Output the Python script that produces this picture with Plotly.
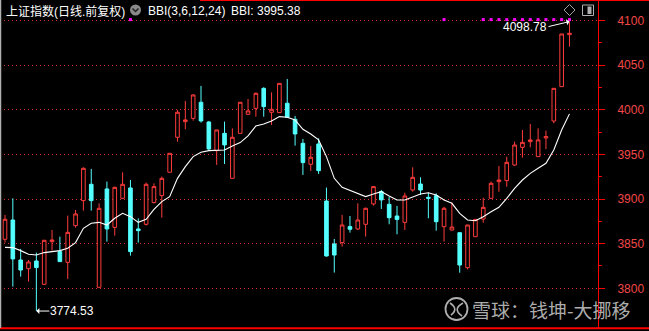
import plotly.graph_objects as go

# ---------------- data ----------------
opens = [3854.9, 3876.5, 3831.7, 3822.0, 3830.6, 3804.5, 3852.3, 3841.1, 3829.1, 3870.2,
         3898.2, 3916.5, 3801.1, 3911.3, 3868.3, 3900.8, 3912.4, 3866.5, 3871.7, 3896.0,
         3903.8, 3930.0, 3969.2, 3986.7, 3990.4, 4008.4, 3986.3, 3954.2, 3973.6, 3923.2,
         3973.6, 3994.9, 4001.6, 4024.0, 3997.2, 3996.8, 4007.3, 3989.3, 3962.4, 3938.9,
         3961.7, 3897.8, 3849.7, 3851.2, 3869.1, 3866.5, 3871.7, 3894.5, 3908.3, 3894.1,
         3881.0, 3873.9, 3910.1, 3916.8, 3901.9, 3903.8, 3869.0, 3865.3, 3862.3, 3823.1,
         3857.8, 3877.6, 3900.8, 3919.5, 3920.6, 3938.1, 3957.9, 3964.3, 3947.5, 3968.4,
         3987.4, 4025.9, 4084.1]
highs = [3882.2, 3900.8, 3844.1, 3831.7, 3840.0, 3854.1, 3865.3, 3857.9, 3881.4, 3887.8,
         3935.5, 3933.7, 3895.2, 3919.5, 3913.9, 3929.9, 3921.4, 3878.4, 3918.4, 3917.6,
         3925.1, 3951.2, 3999.8, 4009.9, 4017.3, 4026.7, 3987.5, 3977.4, 3986.7, 3979.2,
         4008.4, 4012.1, 4019.5, 4025.2, 4019.5, 4029.6, 4034.5, 3993.1, 3967.3, 3959.4,
         3968.0, 3912.8, 3855.3, 3882.2, 3881.0, 3895.2, 3890.4, 3914.6, 3910.2, 3902.6,
         3892.2, 3907.1, 3935.5, 3924.3, 3907.1, 3906.4, 3891.4, 3896.3, 3862.3, 3870.9,
         3877.2, 3901.5, 3919.5, 3937.0, 3947.5, 3964.3, 3977.3, 3984.1, 3979.2, 3976.6,
         4024.0, 4084.9, 4098.78]
lows = [3851.2, 3801.9, 3813.1, 3807.5, 3774.53, 3803.7, 3842.2, 3829.9, 3810.5, 3868.0,
        3887.0, 3887.0, 3801.1, 3852.3, 3859.0, 3900.8, 3836.6, 3851.2, 3870.2, 3895.2,
        3879.2, 3930.0, 3964.3, 3978.1, 3987.8, 3985.6, 3954.2, 3938.2, 3939.3, 3923.2,
        3973.6, 3994.9, 3992.3, 3992.3, 3983.0, 3996.8, 3991.6, 3959.8, 3927.0, 3931.4,
        3928.1, 3835.5, 3817.6, 3846.7, 3862.4, 3865.3, 3857.9, 3892.6, 3888.9, 3871.7,
        3860.5, 3865.3, 3908.2, 3904.5, 3878.4, 3864.6, 3852.3, 3864.6, 3817.5, 3821.2,
        3857.8, 3873.5, 3900.8, 3908.2, 3913.8, 3937.3, 3946.3, 3957.9, 3947.5, 3956.0,
        3984.8, 4025.9, 4070.7]
closes = [3877.3, 3832.9, 3820.5, 3829.5, 3823.2, 3853.8, 3854.1, 3829.9, 3862.7, 3883.3,
          3934.4, 3898.2, 3889.6, 3866.5, 3913.1, 3916.5, 3841.1, 3864.6, 3916.5, 3913.9,
          3923.2, 3951.2, 3997.2, 3988.6, 4016.6, 3987.5, 3956.1, 3977.4, 3960.6, 3969.2,
          4008.4, 3998.7, 4018.4, 4003.5, 4000.5, 4029.6, 3991.6, 3972.9, 3940.8, 3946.8,
          3931.8, 3836.2, 3837.3, 3870.9, 3866.1, 3876.5, 3889.6, 3913.9, 3899.0, 3879.1,
          3877.2, 3903.4, 3924.3, 3910.1, 3900.8, 3874.6, 3889.6, 3868.6, 3826.1, 3870.9,
          3877.2, 3890.7, 3917.6, 3921.3, 3941.1, 3960.5, 3963.5, 3966.2, 3966.2, 3969.9,
          4024.0, 4084.9, 4085.6]
bbi = [3845.9, 3845.6, 3842.2, 3838.1, 3837.3, 3840.0, 3841.1, 3842.2, 3844.8, 3851.2,
       3867.2, 3872.8, 3873.9, 3870.9, 3878.4, 3884.0, 3880.3, 3873.9, 3877.3, 3888.5,
       3897.1, 3902.7, 3923.2, 3936.3, 3947.5, 3952.4, 3954.2, 3954.2, 3955.0, 3959.4,
       3963.2, 3970.7, 3981.9, 3984.1, 3987.5, 3992.3, 3991.6, 3988.6, 3978.1, 3972.9,
       3966.2, 3947.5, 3923.2, 3913.2, 3909.4, 3906.4, 3902.7, 3905.7, 3908.3, 3903.4,
       3898.9, 3898.9, 3902.6, 3905.6, 3907.1, 3904.5, 3898.9, 3895.2, 3883.9, 3876.5,
       3875.7, 3880.2, 3885.8, 3890.7, 3900.8, 3912.0, 3921.3, 3928.8, 3934.4, 3940.0,
       3954.9, 3977.3, 3995.38]
marker_idx = [16, 56, 61, 62, 63, 64, 65, 66, 67, 68, 69, 70, 71, 72]
marker_level = 4101.0
y_ticks = [3800, 3850, 3900, 3950, 4000, 4050, 4100]
title_text = "上证指数(日线.前复权)"
bbi_label = "BBI(3,6,12,24)"
watermark = "雪球：钱坤-大挪移"

# ---------------- layout helpers ----------------
W, H = 649, 331
PW, PH = 598, 328          # plot area (pixels)
def px(x):
    return x / PW
def py(y):
    return 1 - y / PH

FONT = "Liberation Sans, Arial, Noto Sans CJK SC, sans-serif"
RED = "#ff3c3c"
CYAN = "#54ffff"
xs = list(range(len(opens)))
hi_i = highs.index(max(highs))
lo_i = lows.index(min(lows))

fig = go.Figure()
fig.add_trace(go.Candlestick(
    x=xs, open=opens, high=highs, low=lows, close=closes,
    increasing=dict(line=dict(color=RED, width=1), fillcolor="#000000"),
    decreasing=dict(line=dict(color=CYAN, width=1), fillcolor=CYAN),
    whiskerwidth=0, hoverinfo="skip", showlegend=False,
))
fig.add_trace(go.Scatter(
    x=xs, y=bbi, mode="lines", line=dict(color="#ffffff", width=1.1),
    hoverinfo="skip", showlegend=False,
))
fig.add_trace(go.Scatter(
    x=marker_idx, y=[marker_level] * len(marker_idx), mode="markers",
    marker=dict(symbol="square", size=3, color="#ff00ff", line=dict(width=0)),
    hoverinfo="skip", showlegend=False,
))

step = 7.84
x0 = -5 / step
x1 = x0 + PW / step
ppu = 0.8927
ytop = 3800 + 288.3 / ppu
ybot = 3800 - (PH - 288.3) / ppu

annotations = [
    dict(x=px(4), y=py(11.5), xref="paper", yref="paper", text=title_text,
         showarrow=False, xanchor="left", yanchor="middle",
         font=dict(family=FONT, size=12, color="#ffffff")),
    dict(x=px(145.5), y=py(11.5), xref="paper", yref="paper", text=bbi_label,
         showarrow=False, xanchor="left", yanchor="middle",
         font=dict(family=FONT, size=12, color="#ffffff")),
    dict(x=px(229), y=py(11.5), xref="paper", yref="paper", text=f"BBI: {bbi[-1]:.2f}",
         showarrow=False, xanchor="left", yanchor="middle",
         font=dict(family=FONT, size=12, color="#ffffff")),
    dict(x=hi_i, y=highs[hi_i], xref="x", yref="y", text=f"{highs[hi_i]:.2f}",
         showarrow=True, ax=-21, ay=5, xanchor="right", yanchor="middle",
         arrowhead=1, arrowsize=1, arrowwidth=1, arrowcolor="#ffffff",
         font=dict(family=FONT, size=12, color="#ffffff"), borderpad=0),
    dict(x=lo_i, y=lows[lo_i], xref="x", yref="y", text=f"{lows[lo_i]:.2f}",
         showarrow=True, ax=13, ay=0, xanchor="left", yanchor="middle",
         arrowhead=1, arrowsize=1, arrowwidth=1, arrowcolor="#ffffff",
         font=dict(family=FONT, size=12, color="#ffffff"), borderpad=0),
    dict(x=px(470), y=py(309), xref="paper", yref="paper", text=watermark,
         showarrow=False, xanchor="left", yanchor="middle",
         font=dict(family="Noto Sans CJK SC, sans-serif", size=19, color="rgba(205,205,205,0.85)")),
]

shapes = [
    # bottom red line across the full width
    dict(type="line", xref="paper", yref="paper", x0=0, x1=W / PW, y0=py(328.3), y1=py(328.3),
         line=dict(color="#ff0000", width=2)),
    # top red line
    dict(type="line", xref="paper", yref="paper", x0=px(200), x1=W / PW, y0=py(0.5), y1=py(0.5),
         line=dict(color="#ff0000", width=1)),
    # left gray border
    dict(type="line", xref="paper", yref="paper", x0=px(0.5), x1=px(0.5), y0=0, y1=1,
         line=dict(color="#b0b0b0", width=1.5)),
    # gray circle icon with chevron
    dict(type="circle", xref="paper", yref="paper", x0=px(130), x1=px(141), y0=py(15.5), y1=py(4.5),
         fillcolor="#8a8a8a", line=dict(width=0)),
    dict(type="path", xref="paper", yref="paper",
         path=f"M {px(132.5)},{py(8.5)} L {px(135.5)},{py(11.5)} L {px(138.5)},{py(8.5)}",
         line=dict(color="#202020", width=1.5)),
    # diamond icon
    dict(type="path", xref="paper", yref="paper",
         path=(f"M {px(569.5)},{py(4.5)} L {px(575)},{py(10)} L {px(569.5)},{py(15.5)} "
               f"L {px(564)},{py(10)} Z"),
         line=dict(color="#a0a0a0", width=1)),
    # rounded rect icon
    dict(type="rect", xref="paper", yref="paper", x0=px(582.5), x1=px(593.5), y0=py(15.5), y1=py(5),
         line=dict(color="#b0b0b0", width=1)),
    dict(type="rect", xref="paper", yref="paper", x0=px(587.5), x1=px(591.5), y0=py(14), y1=py(6.5),
         fillcolor="#b0b0b0", line=dict(width=0)),
    # watermark logo
    dict(type="circle", xref="paper", yref="paper", x0=px(445.5), x1=px(467.5), y0=py(320), y1=py(298),
         line=dict(color="rgba(205,205,205,0.85)", width=1.8)),
    dict(type="path", xref="paper", yref="paper",
         path=(f"M {px(450)},{py(303)} Q {px(459)},{py(309)} {px(451)},{py(315)} "
               f"M {px(463)},{py(303)} Q {px(452)},{py(309)} {px(462)},{py(316)}"),
         line=dict(color="rgba(205,205,205,0.85)", width=1.6)),
]

fig.update_layout(
    width=W, height=H,
    margin=dict(l=0, r=W - PW, t=0, b=H - PH),
    paper_bgcolor="#000000", plot_bgcolor="#000000",
    boxgap=0.34,
    annotations=annotations, shapes=shapes,
    hovermode=False,
)
fig.update_xaxes(range=[x0, x1], visible=False, showgrid=False, zeroline=False,
                 rangeslider=dict(visible=False))
fig.update_yaxes(
    side="right", range=[ybot, ytop], tickvals=y_ticks,
    showline=True, linecolor="#ff0000", linewidth=1,
    ticks="outside", ticklen=6, tickcolor="#ff0000", tickwidth=1,
    ticklabelstandoff=10,
    tickfont=dict(family=FONT, size=12, color="#f04848"),
    showgrid=True, gridcolor="#d83030", gridwidth=1, griddash="1px,3px",
    zeroline=False,
    minor=dict(dtick=25, tick0=3800, ticks="outside", ticklen=3, tickcolor="#ff0000", showgrid=False),
)

fig.write_html("out.html")
